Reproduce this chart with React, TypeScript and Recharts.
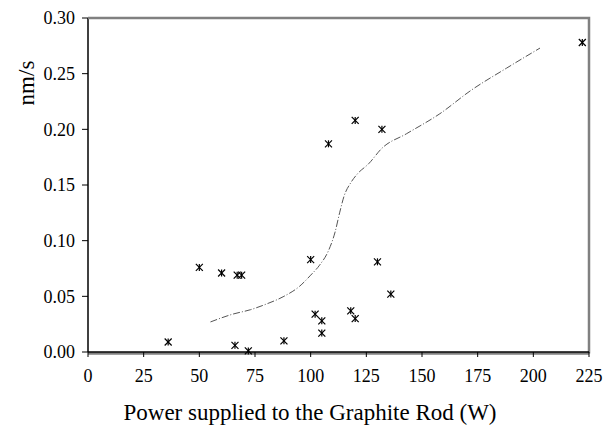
import { ComposedChart, Scatter, Line, XAxis, YAxis, Label } from 'recharts';

const powerW = [36, 50, 60, 66, 67, 69, 72, 88, 100, 102, 105, 105, 108, 118, 120, 120, 130, 132, 136, 222];
const rateNm = [0.009, 0.076, 0.071, 0.006, 0.069, 0.069, 0.001, 0.010, 0.083, 0.034, 0.028, 0.017, 0.187, 0.037, 0.030, 0.208, 0.081, 0.200, 0.052, 0.278];

const trendX = [55, 65, 73, 80, 88, 95, 100, 104, 108, 111, 113, 115, 118, 121, 126, 132, 143, 158, 172, 188, 203];
const trendY = [0.027, 0.034, 0.038, 0.043, 0.05, 0.059, 0.069, 0.078, 0.091, 0.108, 0.125, 0.14, 0.152, 0.16, 0.169, 0.183, 0.196, 0.214, 0.235, 0.255, 0.273];

const xTicks = [0, 25, 50, 75, 100, 125, 150, 175, 200, 225];
const yTicks = [0, 0.05, 0.1, 0.15, 0.2, 0.25, 0.3];

const points = powerW.map((x, i) => ({ x, y: rateNm[i] }));
const trend = trendX.map((x, i) => ({ x, y: trendY[i] }));

const font = 'Liberation Serif, Times New Roman, serif';
const W = 616;
const H = 426;
const margin = { top: 18, right: 27, bottom: 0, left: 0 };
const yAxisW = 88;
const xAxisH = 74;

function Star(props: any) {
  const { cx, cy } = props;
  const r = 3.5;
  return (
    <g stroke="#000" strokeWidth={1.2}>
      <line x1={cx - r} y1={cy - r} x2={cx + r} y2={cy + r} />
      <line x1={cx - r} y1={cy + r} x2={cx + r} y2={cy - r} />
      <line x1={cx} y1={cy - r} x2={cx} y2={cy + r} />
    </g>
  );
}

// grey frame round the plot area (top, right, and a shadow under the x axis)
function Frame() {
  const left = margin.left + yAxisW;
  const right = W - margin.right;
  const top = margin.top;
  const bottom = H - margin.bottom - xAxisH;
  return (
    <g fill="none" stroke="#808080" strokeWidth={2.5}>
      <path d={`M${left},${top}H${right}V${bottom + 1.5}`} />
      <line x1={left} y1={bottom + 1.5} x2={right} y2={bottom + 1.5} />
    </g>
  );
}

export default function App() {
  return (
    <div style={{ position: 'absolute', left: 0, top: 0, background: '#fff' }}>
      <ComposedChart width={W} height={H} margin={margin}>
        <YAxis
          type="number"
          dataKey="y"
          domain={[0, 0.3]}
          ticks={yTicks}
          interval={0}
          width={yAxisW}
          tickSize={6}
          tickMargin={7}
          tickFormatter={(v: number) => v.toFixed(2)}
          axisLine={{ stroke: '#000', strokeWidth: 1.5 }}
          tickLine={{ stroke: '#000' }}
          tick={{ fill: '#000', fontSize: 18, fontFamily: font }}
        >
          <Label
            content={() => (
              <g>
                <Frame />
                <text x={34} y={83} textAnchor="middle" fontSize={23} fontFamily={font} fill="#000" transform="rotate(-90 34 83)">
                  nm/s
                </text>
              </g>
            )}
          />
        </YAxis>
        <XAxis
          type="number"
          dataKey="x"
          domain={[0, 225]}
          ticks={xTicks}
          interval={0}
          height={xAxisH}
          tickSize={5}
          tickMargin={12}
          axisLine={{ stroke: '#000', strokeWidth: 1.5 }}
          tickLine={{ stroke: '#000' }}
          tick={{ fill: '#000', fontSize: 18, fontFamily: font }}
        >
          <Label
            content={() => (
              <text x={310} y={420} textAnchor="middle" fontSize={23} fontFamily={font} fill="#000">
                Power supplied to the Graphite Rod (W)
              </text>
            )}
          />
        </XAxis>
        <Line
          data={trend}
          dataKey="y"
          type="monotone"
          dot={false}
          stroke="#555"
          strokeWidth={1}
          strokeDasharray="7 2 1 2"
          isAnimationActive={false}
        />
        <Scatter data={points} dataKey="y" shape={Star} isAnimationActive={false} />
      </ComposedChart>
    </div>
  );
}
